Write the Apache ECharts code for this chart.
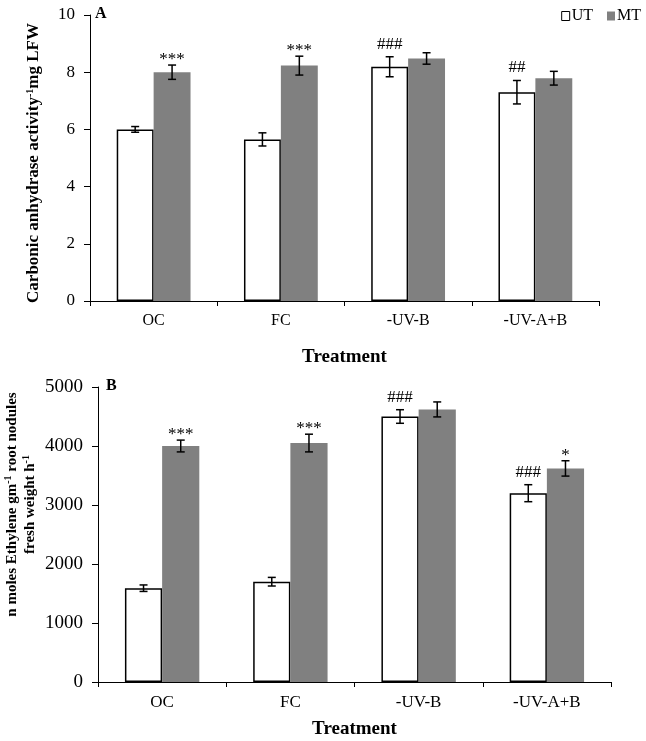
<!DOCTYPE html>
<html>
<head>
<meta charset="utf-8">
<script src="https://cdn.jsdelivr.net/npm/echarts@6/dist/echarts.min.js"></script>
<style>
  html, body { margin: 0; padding: 0; background: #fff; }
  #chart { width: 646px; height: 741px; }
</style>
</head>
<body>
<div id="chart"></div>
<script>
// categories shared by both panels
const treatments = ['OC', 'FC', '-UV-B', '-UV-A+B'];

// panel A: carbonic anhydrase activity
const caUT = [6.0, 5.65, 8.19, 7.30];
const caUTErr = [0.1, 0.23, 0.35, 0.41];
const caMT = [8.0, 8.23, 8.48, 7.79];
const caMTErr = [0.25, 0.33, 0.2, 0.24];
const caUTSig = ['', '', '###', '##'];
const caMTSig = ['***', '***', '', ''];

// panel B: nitrogenase (ethylene) activity
const nUT = [1590, 1700, 4500, 3200];
const nUTErr = [55, 73, 115, 144];
const nMT = [4000, 4050, 4620, 3620];
const nMTErr = [100, 150, 127, 130];
const nUTSig = ['', '', '###', '###'];
const nMTSig = ['***', '***', '', '*'];

const FONT = '"Liberation Serif", "Times New Roman", serif';
const GAP = 0.42; // barCategoryGap

function barCenter(api, idx, side) {
  const c = api.coord([idx, 0]);
  const catW = api.size([1, 0])[0];
  const bw = catW * (1 - GAP) / 2;
  return { x: c[0] + (side === 0 ? -bw / 2 : bw / 2), bw: bw };
}

function errSeries(vals, errs, side, axis) {
  return {
    type: 'custom',
    xAxisIndex: axis, yAxisIndex: axis,
    silent: true, z: 5,
    data: vals.map((v, i) => [i, v, errs[i]]),
    renderItem: function (params, api) {
      const i = api.value(0);
      const b = barCenter(api, i, side);
      const hi = api.coord([i, api.value(1) + api.value(2)])[1];
      const lo = api.coord([i, api.value(1) - api.value(2)])[1];
      const cap = 4;
      const st = { stroke: '#000', lineWidth: 1.5 };
      return {
        type: 'group',
        children: [
          { type: 'line', shape: { x1: b.x, y1: hi, x2: b.x, y2: lo }, style: st },
          { type: 'line', shape: { x1: b.x - cap, y1: hi, x2: b.x + cap, y2: hi }, style: st },
          { type: 'line', shape: { x1: b.x - cap, y1: lo, x2: b.x + cap, y2: lo }, style: st }
        ]
      };
    }
  };
}

function sigSeries(vals, errs, sig, side, axis) {
  return {
    type: 'custom',
    xAxisIndex: axis, yAxisIndex: axis,
    silent: true, z: 6,
    data: vals.map((v, i) => [i, v + errs[i], sig[i]]),
    renderItem: function (params, api) {
      const i = api.value(0);
      const b = barCenter(api, i, side);
      const y = api.coord([i, api.value(1)])[1];
      // asterisks sit high in the glyph box, so drop them a bit
      const off = sig[i].charAt(0) === '*' ? 3 : -4;
      return {
        type: 'text',
        style: {
          text: sig[i], x: b.x, y: y + off,
          align: 'center', verticalAlign: 'bottom',
          font: '17px ' + FONT, fill: '#000'
        }
      };
    }
  };
}

const axisLine = { show: true, lineStyle: { color: '#000', width: 1 } };

const option = {
  animation: false,
  backgroundColor: '#fff',
  textStyle: { fontFamily: FONT, color: '#000' },
  title: [
    { text: 'A', left: 95, top: 6, padding: 0, textStyle: { fontFamily: FONT, fontSize: 16, fontWeight: 'bold', color: '#000' } },
    { text: 'B', left: 106, top: 378, padding: 0, textStyle: { fontFamily: FONT, fontSize: 16, fontWeight: 'bold', color: '#000' } }
  ],
  legend: {
    data: ['UT', 'MT'],
    right: 0, top: 3,
    icon: 'rect', itemWidth: 8, itemHeight: 9, itemGap: 14,
    itemStyle: { borderWidth: 1 },
    textStyle: { fontFamily: FONT, fontSize: 16, color: '#000', padding: [0, 0, 0, -3] }
  },
  grid: [
    { left: 90, right: 47, top: 15, bottom: 440, outerBoundsMode: 'none' },
    { left: 98, right: 35, top: 387, bottom: 59, outerBoundsMode: 'none' }
  ],
  xAxis: [0, 1].map(g => ({
    type: 'category', gridIndex: g, data: treatments,
    name: 'Treatment', nameLocation: 'middle', nameGap: g === 0 ? 47 : 38,
    nameTextStyle: { fontFamily: FONT, fontSize: 19, fontWeight: 'bold', color: '#000' },
    axisLine: axisLine,
    axisTick: { show: true, length: 5, lineStyle: { color: '#000' } },
    axisLabel: { fontFamily: FONT, fontSize: g === 0 ? 16 : 17, color: '#000', margin: 12 }
  })),
  yAxis: [
    {
      type: 'value', gridIndex: 0, min: 0, max: 10, interval: 2,
      name: '{b|Carbonic anhydrase activity}{s|-1}{b|mg LFW}',
      nameLocation: 'middle', nameGap: 47,
      nameTextStyle: {
        padding: [0, 10, 0, 0],
        rich: {
          b: { fontFamily: FONT, fontSize: 17, fontWeight: 'bold', color: '#000' },
          s: { fontFamily: FONT, fontSize: 10, fontWeight: 'bold', color: '#000', padding: [0, 0, 8, 0] }
        }
      },
      axisLine: axisLine,
      axisTick: { show: true, length: 6, lineStyle: { color: '#000' } },
      axisLabel: { fontFamily: FONT, fontSize: 17, color: '#000', margin: 15, formatter: v => String(v) },
      splitLine: { show: false }
    },
    {
      type: 'value', gridIndex: 1, min: 0, max: 5000, interval: 1000,
      name: '{b|n moles Ethylene gm}{s|-1}{b| root nodules}\n{b|fresh weight h}{s|-1}',
      nameLocation: 'middle', nameGap: 59, nameMoveOverlap: false,
      nameTextStyle: {
        lineHeight: 18,
        padding: [0, 0, 0, 60],
        rich: {
          b: { fontFamily: FONT, fontSize: 15, fontWeight: 'bold', color: '#000', lineHeight: 18 },
          s: { fontFamily: FONT, fontSize: 10, fontWeight: 'bold', color: '#000', lineHeight: 18, padding: [0, 0, 8, 0] }
        }
      },
      axisLine: axisLine,
      axisTick: { show: true, length: 6, lineStyle: { color: '#000' } },
      axisLabel: { fontFamily: FONT, fontSize: 19, color: '#000', margin: 15, formatter: v => String(v) },
      splitLine: { show: false }
    }
  ],
  series: [
    {
      name: 'UT', type: 'bar', xAxisIndex: 0, yAxisIndex: 0, data: caUT,
      barGap: '0%', barCategoryGap: '42%',
      itemStyle: { color: '#fff', borderColor: '#000', borderWidth: 1.5 }
    },
    {
      name: 'MT', type: 'bar', xAxisIndex: 0, yAxisIndex: 0, data: caMT,
      barGap: '0%', barCategoryGap: '42%',
      itemStyle: { color: '#808080' }
    },
    {
      name: 'UT', type: 'bar', xAxisIndex: 1, yAxisIndex: 1, data: nUT,
      barGap: '0%', barCategoryGap: '42%',
      itemStyle: { color: '#fff', borderColor: '#000', borderWidth: 1.5 }
    },
    {
      name: 'MT', type: 'bar', xAxisIndex: 1, yAxisIndex: 1, data: nMT,
      barGap: '0%', barCategoryGap: '42%',
      itemStyle: { color: '#808080' }
    },
    errSeries(caUT, caUTErr, 0, 0),
    errSeries(caMT, caMTErr, 1, 0),
    errSeries(nUT, nUTErr, 0, 1),
    errSeries(nMT, nMTErr, 1, 1),
    sigSeries(caUT, caUTErr, caUTSig, 0, 0),
    sigSeries(caMT, caMTErr, caMTSig, 1, 0),
    sigSeries(nUT, nUTErr, nUTSig, 0, 1),
    sigSeries(nMT, nMTErr, nMTSig, 1, 1)
  ]
};

const myChart = echarts.init(document.getElementById('chart'));
myChart.setOption(option);
window.onresize = myChart.resize;
</script>
</body>
</html>
